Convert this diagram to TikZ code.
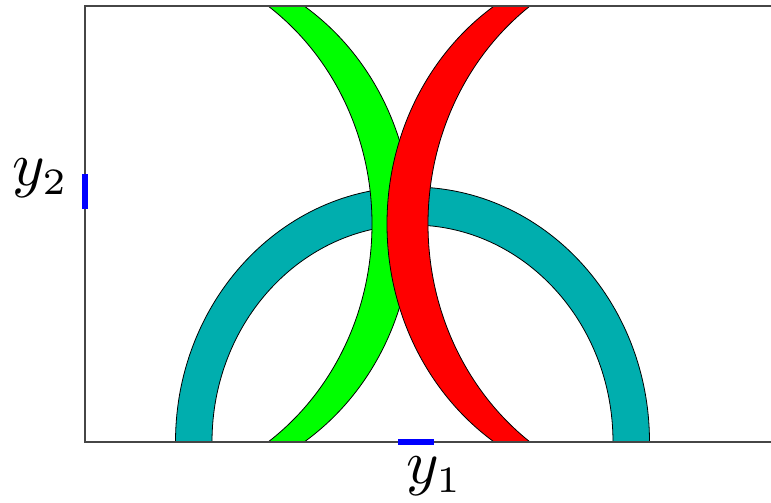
\documentclass[tikz,border=0pt]{standalone}
\DeclareMathSizes{10}{10}{6}{5}
\definecolor{tealc}{RGB}{0,174,174}
\definecolor{framec}{RGB}{70,70,70}
\tikzset{
  shapeline/.style={draw=black, line width=0.8pt},
  frameline/.style={draw=framec, line width=1.2pt},
  markline/.style={draw=blue, line width=5.5pt, line cap=butt},
  lab/.style={inner sep=0pt, anchor=base west, font=\normalsize, scale=6.2}
}
\begin{document}
\begin{tikzpicture}[x=1pt,y=-1pt]
\useasboundingbox (0,0) rectangle (771,503);
\coordinate (tl) at (85,6);
\coordinate (bl) at (85,442);
\coordinate (tr) at (771,6);
\coordinate (br) at (771,442);
\begin{scope}
  \clip (tl) rectangle (br);
  % teal annulus
  \fill[tealc, even odd rule] (412.5,442) ellipse [x radius=237pt, y radius=255pt]
        (412.5,442) ellipse [x radius=200.5pt, y radius=217pt];
  \draw[shapeline] (412.5,442) ellipse [x radius=237pt, y radius=255pt];
  \draw[shapeline] (412.5,442) ellipse [x radius=200.5pt, y radius=217pt];
  % green lune
  \begin{scope}
    \clip (171,224) ellipse [x radius=241pt, y radius=261.5pt];
    \fill[green, even odd rule] (0,0) rectangle (771,503)
        (126,224) ellipse [x radius=246pt, y radius=267pt];
  \end{scope}
  \begin{scope}
    \clip (85,0) rectangle (460,503);
    \draw[shapeline] (171,224) ellipse [x radius=241pt, y radius=261.5pt];
    \draw[shapeline] (126,224) ellipse [x radius=246pt, y radius=267pt];
  \end{scope}
  % red lune
  \begin{scope}
    \clip (629,224) ellipse [x radius=242pt, y radius=262.5pt];
    \fill[red, even odd rule] (0,0) rectangle (771,503)
        (677,224) ellipse [x radius=249pt, y radius=270pt];
  \end{scope}
  \begin{scope}
    \clip (350,0) rectangle (660,503);
    \draw[shapeline] (629,224) ellipse [x radius=242pt, y radius=262.5pt];
    \draw[shapeline] (677,224) ellipse [x radius=249pt, y radius=270pt];
  \end{scope}
\end{scope}
% frame
\draw[frameline] (tr) -- (tl) -- (bl) -- (br);
% marks
\coordinate (m2a) at (85,174);
\coordinate (m2b) at (85,209);
\coordinate (m1a) at (398,442);
\coordinate (m1b) at (434,442);
\draw[markline] (m2a) -- (m2b);
\draw[markline] (m1a) -- (m1b);
% labels
\node[lab] (ytwo) at (11,185) {$y_2$};
\node[lab] (yone) at (405,483) {$y_1$};
\end{tikzpicture}
\end{document}
